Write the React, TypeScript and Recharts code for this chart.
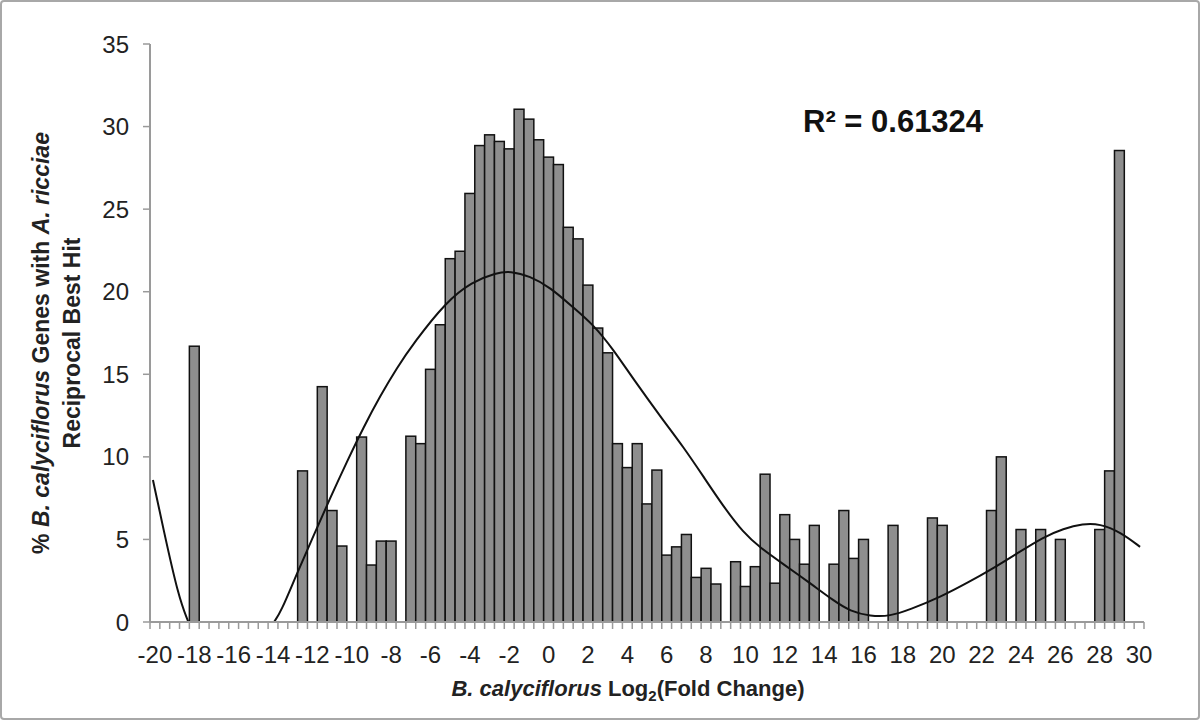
import { ComposedChart, Bar, Line, XAxis, YAxis } from 'recharts'

// histogram bins (lower edge of each 0.5-wide bin) and % of genes in them
const binStart = [
  -18, -12.5, -11.5, -11, -10.5, -9.5, -9, -8.5, -8, -7, -6.5, -6, -5.5, -5, -4.5, -4,
  -3.5, -3, -2.5, -2, -1.5, -1, -0.5, 0, 0.5, 1, 1.5, 2, 2.5, 3, 3.5, 4, 4.5, 5, 5.5,
  6, 6.5, 7, 7.5, 8, 8.5, 9.5, 10, 10.5, 11, 11.5, 12, 12.5, 13, 13.5, 14.5, 15, 15.5,
  16, 17.5, 19.5, 20, 22.5, 23, 24, 25, 26, 28, 28.5, 29,
]
const binPct = [
  16.7, 9.15, 14.25, 6.75, 4.6, 11.2, 3.45, 4.9, 4.9, 11.25, 10.8, 15.3, 18.0, 22.0, 22.45, 25.95,
  28.85, 29.5, 29.1, 28.65, 31.05, 30.45, 29.2, 28.15, 27.7, 23.9, 23.2, 20.4, 17.8, 16.3, 10.8, 9.35, 10.8, 7.15, 9.2,
  4.05, 4.55, 5.3, 2.7, 3.25, 2.3, 3.65, 2.15, 3.35, 8.95, 2.35, 6.5, 5.0, 3.5, 5.85, 3.5, 6.75, 3.85,
  5.0, 5.85, 6.3, 5.85, 6.75, 10.0, 5.6, 5.6, 5.0, 5.6, 9.15, 28.55,
]

// polynomial trendline (null = below zero, not drawn)
const fitX = [
  -20.1, -19.6, -18.8, -18.3, -16,
  -13.95, -13.6, -12.8, -11.95, -11.1, -10.25, -9.4, -8.55, -7.7, -6.85, -5.2, -3.9, -2.65, -1.95,
  -0.95, 0.1, 1.2, 2.28, 3.29, 4.31, 5.83, 6.85, 7.87, 8.88, 9.9, 10.75, 11.93, 13.29, 14.47,
  15.32, 16.35, 17.35, 18.35, 19.9, 21.4, 22.45, 23.8, 25.15, 26.15, 27.15, 28.0, 29.05, 30.05,
]
const fitY = [
  8.6, 5.8, 1.5, 0, null,
  0, 0.6, 2.9, 5.2, 7.5, 9.7, 11.8, 13.7, 15.4, 16.9, 19.4, 20.6, 21.15, 21.25,
  20.95, 20.25, 19.1, 18.0, 16.5, 14.7, 12.2, 10.6, 8.8, 7.0, 5.4, 4.5, 3.5, 2.35, 1.3,
  0.65, 0.35, 0.35, 0.75, 1.5, 2.45, 3.15, 4.15, 5.15, 5.65, 5.95, 5.95, 5.45, 4.55,
]

const yTicks = [0, 5, 10, 15, 20, 25, 30, 35]
const xLabels = [-20, -18, -16, -14, -12, -10, -8, -6, -4, -2, 0, 2, 4, 6, 8, 10, 12, 14, 16, 18, 20, 22, 24, 26, 28, 30]

const SLOT = 0.5
const X_MIN = -20
const X_MAX = 30.5
const SLOTS = Math.round((X_MAX - X_MIN) / SLOT)

const W = 1200
const H = 720
const PLOT_LEFT = 150
const PLOT_RIGHT = 1144
const barWidth = (PLOT_RIGHT - PLOT_LEFT) / SLOTS

const barRows = binStart.map((b, i) => ({ pos: b + SLOT / 2, pct: binPct[i] }))
const fitRows = fitX.map((x, i) => ({ pos: x + SLOT / 2, fit: fitY[i] }))
const minorTicks = Array.from({ length: SLOTS + 1 }, (_, i) => X_MIN + i * SLOT)
const labelTicks = xLabels.map(v => v + SLOT / 2)

const font = '"Liberation Sans", Arial, sans-serif'
const axisGray = '#9a9a9a'
const textColor = '#222'

// each bin fills its whole slot, like Excel with zero gap width
const HistBar = (props: any) => {
  const { x, y, width, height } = props
  if (!height) return null
  const cx = x + width / 2
  return (
    <rect
      x={cx - barWidth / 2}
      y={y}
      width={barWidth}
      height={height}
      fill="#8e8e8e"
      stroke="#111"
      strokeWidth={1.5}
    />
  )
}

export default function App() {
  return (
    <div style={{ position: 'absolute', left: 0, top: 0, width: W, height: H, background: '#fff', fontFamily: font }}>
      <div style={{
        position: 'absolute', inset: 0, border: '2px solid #a8a8a8', borderRadius: 4, boxSizing: 'border-box',
      }} />
      <ComposedChart
        width={W}
        height={H}
        data={barRows}
        margin={{ top: 44, right: W - PLOT_RIGHT, bottom: 48, left: 0 }}
      >
        <XAxis
          xAxisId="b"
          dataKey="pos"
          type="number"
          domain={[X_MIN, X_MAX]}
          ticks={labelTicks}
          interval={0}
          tickFormatter={(v: number) => String(Math.round(v - SLOT / 2))}
          tick={{ fontSize: 24, fill: textColor, fontFamily: font }}
          tickLine={false}
          axisLine={false}
          tickMargin={8}
          height={40}
        />
        <XAxis
          xAxisId="a"
          dataKey="pos"
          type="number"
          domain={[X_MIN, X_MAX]}
          ticks={minorTicks}
          interval={0}
          tickFormatter={() => ''}
          tickSize={7}
          height={10}
          axisLine={{ stroke: axisGray, strokeWidth: 2 }}
          tickLine={{ stroke: axisGray, strokeWidth: 1.5 }}
        />
        <YAxis
          type="number"
          domain={[0, 35]}
          ticks={yTicks}
          interval={0}
          width={PLOT_LEFT}
          tickSize={7}
          tickMargin={14}
          tick={{ fontSize: 24, fill: textColor, fontFamily: font }}
          axisLine={{ stroke: axisGray, strokeWidth: 2 }}
          tickLine={{ stroke: axisGray, strokeWidth: 1.5 }}
        />
        <Bar
          xAxisId="a"
          dataKey="pct"
          shape={HistBar}
          isAnimationActive={false}
        />
        <Line
          xAxisId="a"
          data={fitRows}
          dataKey="fit"
          type="basis"
          stroke="#111"
          strokeWidth={2}
          dot={false}
          activeDot={false}
          connectNulls={false}
          isAnimationActive={false}
        />
      </ComposedChart>

      <div style={{
        position: 'absolute', left: 803, top: 104, fontSize: 31, fontWeight: 'bold', color: '#111', whiteSpace: 'nowrap',
      }}>
        R² = 0.61324
      </div>

      <div style={{
        position: 'absolute', left: 628, top: 690, transform: 'translate(-50%, -50%)',
        fontSize: 22, fontWeight: 'bold', color: textColor, whiteSpace: 'nowrap',
      }}>
        <i>B. calyciflorus</i> Log<sub style={{ fontSize: 15 }}>2</sub>(Fold Change)
      </div>

      <div style={{
        position: 'absolute', left: 57, top: 343, transform: 'translate(-50%, -50%) rotate(-90deg)',
        fontSize: 23, fontWeight: 'bold', color: textColor, whiteSpace: 'nowrap', textAlign: 'center', lineHeight: '31px',
      }}>
        % <i>B. calyciflorus</i> Genes with <i>A. ricciae</i>
        <br />
        Reciprocal Best Hit
      </div>
    </div>
  )
}
